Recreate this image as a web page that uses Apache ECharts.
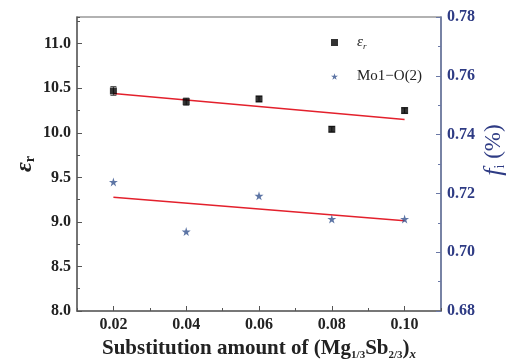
<!DOCTYPE html>
<html>
<head>
<meta charset="utf-8">
<script src="https://cdn.jsdelivr.net/npm/echarts@6/dist/echarts.min.js"></script>
<style>
  html, body { margin: 0; padding: 0; background: #fff; }
  #chart { width: 511px; height: 361px; }
</style>
</head>
<body>
<div id="chart"></div>
<script>
// substitution amount x
var xValues = [0.02, 0.04, 0.06, 0.08, 0.10];
// dielectric constant (left axis) and its error
var epsValues = [10.47, 10.35, 10.38, 10.04, 10.25];
var epsErr = [0.05, 0.04, 0.03, 0.03, 0.03];
// bond ionicity Mo1-O(2) (right axis)
var fiValues = [0.7239, 0.7070, 0.7192, 0.7113, 0.7113];
// linear fit end points
var epsFit = [[0.02, 10.44], [0.10, 10.15]];
var fiFit = [[0.02, 0.7187], [0.10, 0.7107]];
var xLabels = [0.02, 0.04, 0.06, 0.08, 0.10];

var serif = '"Liberation Serif", "DejaVu Serif", serif';
var starPath = 'path://M50,0 L61,35 L98,35 L68,57 L79,91 L50,70 L21,91 L32,57 L2,35 L39,35 Z';

var chart = echarts.init(document.getElementById('chart'));

var epsData = [];
var errData = [];
var fiData = [];
for (var i = 0; i < xValues.length; i++) {
    epsData.push([xValues[i], epsValues[i]]);
    errData.push([xValues[i], epsValues[i], epsErr[i]]);
    fiData.push([xValues[i], fiValues[i]]);
}

var option = {
    animation: false,
    grid: {
        left: 77, right: 70, top: 17, bottom: 50,
        outerBoundsMode: 'none',
        containLabel: false,
        show: true, borderColor: '#666', borderWidth: 1.2
    },
    legend: {
        orient: 'vertical',
        left: 326, top: 30,
        itemGap: 18,
        itemWidth: 7, itemHeight: 7,
        textStyle: {
            fontFamily: serif, fontSize: 15, color: '#222',
            padding: [0, 0, 0, 14],
            rich: {
                e: { fontFamily: serif, fontSize: 15, fontStyle: 'italic', color: '#222' },
                s: { fontFamily: serif, fontSize: 9, fontStyle: 'italic', color: '#222', verticalAlign: 'bottom', padding: [8, 0, 0, 0] }
            }
        },
        formatter: function (name) {
            if (name === 'eps') return '{e|ε}{s|r}';
            return name;
        },
        data: [
            { name: 'eps', icon: 'rect', itemStyle: { color: '#000' } },
            { name: 'Mo1−O(2)', icon: starPath, itemStyle: { color: '#34528f' } }
        ]
    },
    xAxis: [{
        type: 'value',
        min: 0.01, max: 0.11, interval: 0.01,
        axisLine: { show: true, lineStyle: { color: '#666', width: 1.5 } },
        axisTick: { show: true, inside: true, length: 5, lineStyle: { color: '#555' }, customValues: xLabels },
        splitLine: { show: false },
        axisLabel: {
            margin: 6,
            customValues: xLabels,
            fontFamily: serif, fontSize: 16, fontWeight: 'bold', color: '#222',
            formatter: function (v) { return v.toFixed(2); }
        },
        name: '{t|Substitution amount of (Mg}{s|1/3}{t|Sb}{s|2/3}{t|)}{x|x}',
        nameLocation: 'middle',
        nameMoveOverlap: false,
        nameGap: 25,
        nameTextStyle: {
            rich: {
                t: { fontFamily: serif, fontSize: 21, fontWeight: 'bold', color: '#222', lineHeight: 24 },
                s: { fontFamily: serif, fontSize: 11, fontWeight: 'bold', color: '#222', verticalAlign: 'bottom', padding: [12, 0, 0, 0] },
                x: { fontFamily: serif, fontSize: 13, fontWeight: 'bold', fontStyle: 'italic', color: '#222', verticalAlign: 'bottom', padding: [12, 0, 0, 0] }
            }
        }
    }, {
        type: 'value',
        min: 0.01, max: 0.11, interval: 0.02,
        position: 'bottom',
        axisLine: { show: false },
        axisTick: { show: true, inside: true, length: 3, lineStyle: { color: '#555' } },
        axisLabel: { show: false },
        splitLine: { show: false }
    }],
    yAxis: [{
        type: 'value',
        min: 8, max: 11.3, interval: 0.5,
        position: 'left',
        axisLine: { show: true, lineStyle: { color: '#666', width: 1.5 } },
        axisTick: { show: true, inside: true, length: 5, lineStyle: { color: '#555' } },
        splitLine: { show: false },
        axisLabel: {
            margin: 6, showMaxLabel: false,
            fontFamily: serif, fontSize: 16, fontWeight: 'bold', color: '#222',
            formatter: function (v) { return v > 11.2 ? '' : v.toFixed(1); }
        },
        name: '{e|ε}{s|r}',
        nameLocation: 'middle',
        nameRotate: 90,
        nameMoveOverlap: false,
        nameGap: 40,
        nameTextStyle: {
            rich: {
                e: { fontFamily: serif, fontSize: 24, fontWeight: 'bold', fontStyle: 'italic', color: '#222' },
                s: { fontFamily: serif, fontSize: 14, fontWeight: 'bold', color: '#222', verticalAlign: 'bottom', padding: [10, 0, 0, 0] }
            }
        }
    }, {
        type: 'value',
        min: 0.68, max: 0.78, interval: 0.02,
        position: 'right',
        axisLine: { show: true, lineStyle: { color: '#6a78a6', width: 1.5 } },
        axisTick: { show: true, inside: true, length: 5, lineStyle: { color: '#6a78a6' } },
        minorTick: { show: true, splitNumber: 2, length: 3, lineStyle: { color: '#6a78a6' } },
        splitLine: { show: false },
        axisLabel: {
            margin: 6,
            fontFamily: serif, fontSize: 16, fontWeight: 'bold', color: '#2e3b84',
            formatter: function (v) { return v.toFixed(2); }
        },
        name: '{f|f}{s|i}{t| (%)}',
        nameLocation: 'middle',
        nameRotate: 90,
        nameMoveOverlap: false,
        nameGap: 40,
        nameTextStyle: {
            padding: [0, 0, 0, 28],
            rich: {
                f: { fontFamily: serif, fontSize: 26, fontStyle: 'italic', color: '#2e3b84' },
                s: { fontFamily: serif, fontSize: 14, color: '#2e3b84', verticalAlign: 'bottom', padding: [10, 0, 0, 0] },
                t: { fontFamily: serif, fontSize: 23, color: '#2e3b84' }
            }
        }
    }, {
        type: 'value',
        min: 8, max: 11.3, interval: 0.25,
        position: 'left',
        axisLine: { show: false },
        axisTick: { show: true, inside: true, length: 3, lineStyle: { color: '#555' } },
        axisLabel: { show: false },
        splitLine: { show: false }
    }],
    series: [{
        name: 'epsFit',
        type: 'line',
        xAxisIndex: 0, yAxisIndex: 0,
        data: epsFit,
        symbol: 'none',
        lineStyle: { color: '#e3202c', width: 1.5 },
        z: 1
    }, {
        name: 'fiFit',
        type: 'line',
        xAxisIndex: 0, yAxisIndex: 1,
        data: fiFit,
        symbol: 'none',
        lineStyle: { color: '#e3202c', width: 1.5 },
        z: 1
    }, {
        name: 'epsErr',
        type: 'custom',
        xAxisIndex: 0, yAxisIndex: 0,
        data: errData,
        z: 2,
        renderItem: function (params, api) {
            var x = api.value(0), y = api.value(1), e = api.value(2);
            var hi = api.coord([x, y + e]);
            var lo = api.coord([x, y - e]);
            var style = { stroke: '#555', lineWidth: 1 };
            return {
                type: 'group',
                children: [
                    { type: 'line', shape: { x1: hi[0], y1: hi[1], x2: lo[0], y2: lo[1] }, style: style },
                    { type: 'line', shape: { x1: hi[0] - 3, y1: hi[1], x2: hi[0] + 3, y2: hi[1] }, style: style },
                    { type: 'line', shape: { x1: lo[0] - 3, y1: lo[1], x2: lo[0] + 3, y2: lo[1] }, style: style }
                ]
            };
        }
    }, {
        name: 'eps',
        type: 'scatter',
        xAxisIndex: 0, yAxisIndex: 0,
        data: epsData,
        symbol: 'rect',
        symbolSize: 7,
        itemStyle: { color: '#000' },
        z: 3
    }, {
        name: 'Mo1−O(2)',
        type: 'scatter',
        xAxisIndex: 0, yAxisIndex: 1,
        data: fiData,
        symbol: starPath,
        symbolSize: 9,
        itemStyle: { color: '#34528f' },
        z: 3
    }]
};

chart.setOption(option);
</script>
</body>
</html>
